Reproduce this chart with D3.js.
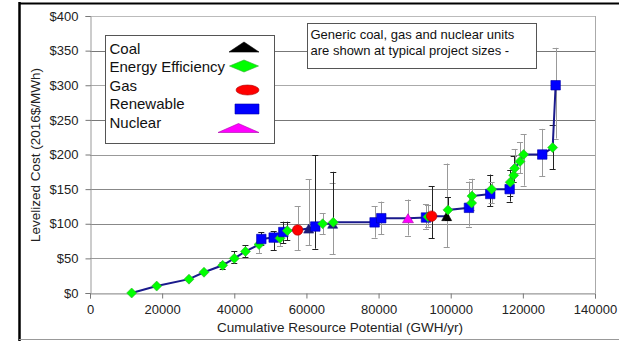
<!DOCTYPE html>
<html>
<head>
<meta charset="utf-8">
<script src="https://cdn.jsdelivr.net/npm/d3@7"></script>
<style>
  body { margin: 0; background: #fff; }
  svg { display: block; font-family: "Liberation Sans", Arial, sans-serif; }
</style>
</head>
<body>
<svg id="chart" width="619" height="341"></svg>
<script>
// cumulative potential (GWh/yr), levelized cost ($/MWh), resource type
const potential = [11550, 18490, 27440, 31600, 36780, 40000, 43100, 46850, 47490, 50920, 52670, 53590, 54700, 57570, 60620, 62460, 64500, 67270, 67440, 78900, 80750, 88150, 93140, 93700, 94720, 98880, 99240, 105060, 105800, 105900, 110960, 111350, 116340, 116500, 117450, 117730, 119200, 120220, 125380, 128260, 129090];
const cost = [0, 10, 20, 30, 40, 50, 60, 70, 78, 80, 79, 88, 90, 91, 93, 96, 100, 100, 102, 102, 108, 108, 109, 110, 111, 111, 120, 123, 130, 140, 143, 150, 150, 160, 170, 180, 190, 200, 200, 210, 300];
const kind = ['EE', 'EE', 'EE', 'EE', 'EE', 'EE', 'EE', 'EE', 'Ren', 'Ren', 'EE', 'Ren', 'EE', 'Gas', 'Coal', 'Ren', 'EE', 'Coal', 'EE', 'Ren', 'Ren', 'Nuc', 'Ren', 'EE', 'Gas', 'Coal', 'EE', 'Ren', 'EE', 'EE', 'Ren', 'EE', 'Ren', 'EE', 'EE', 'EE', 'EE', 'EE', 'Ren', 'EE', 'Ren'];
// error bar range (low, high); null = no bar; barTone 1 = black, 0 = grey
const errLow = [null, null, null, null, 34, 43, 52, 58, 70, 62, 68, 72, 76, 62, 69, 64, 85, 56, 100, 80, 85, 83, 93, 96, 79, 66, 105, 96, 120, 130, 125, 130, 132, 140, 160, 170, 173, 155, 169, 179, 223];
const errHigh = [null, null, null, null, 45, 60, 69, 74, 88, 89, 85, 103, 103, 125, 164, 199, 115, 159, 175, 125, 132, 135, 128, 127, 154, 187, 138, 161, 150, 165, 171, 160, 156, 178, 198, 208, 218, 229, 237, 242, 354];
const barTone = [1, 1, 1, 1, 1, 1, 1, 0, 1, 1, 0, 1, 1, 0, 0, 1, 0, 0, 1, 0, 0, 0, 0, 0, 1, 0, 1, 0, 0, 0, 1, 0, 1, 1, 1, 0, 0, 0, 0, 1, 0];
const yTicks = [0, 50, 100, 150, 200, 250, 300, 350, 400];
const xTicks = [0, 20000, 40000, 60000, 80000, 100000, 120000, 140000];
const legendLabels = ['Coal', 'Energy Efficiency', 'Gas', 'Renewable', 'Nuclear'];
const legendKinds = ['Coal', 'EE', 'Gas', 'Ren', 'Nuc'];
const noteLines = ['Generic coal, gas and nuclear units', 'are shown at typical project sizes -'];

const fills = { Coal: '#000000', EE: '#00ff00', Gas: '#ff0000', Ren: '#0000ff', Nuc: '#ff00ff' };
const strokes = { Coal: '#000000', EE: '#33aa33', Gas: '#aa0000', Ren: '#0000aa', Nuc: '#aa00aa' };

const svg = d3.select('#chart');
const x = d3.scaleLinear().domain([0, 140000]).range([90, 595]);
const y = d3.scaleLinear().domain([0, 400]).range([293, 16]);

// outer frame pieces
svg.append('line').attr('x1', 19.5).attr('x2', 19.5).attr('y1', 2).attr('y2', 341).attr('stroke', '#000').attr('stroke-width', 2.5);
svg.append('line').attr('x1', 19).attr('x2', 619).attr('y1', 3.5).attr('y2', 3.5).attr('stroke', '#000').attr('stroke-width', 2);
svg.append('line').attr('x1', 19).attr('x2', 619).attr('y1', 339.5).attr('y2', 339.5).attr('stroke', '#999').attr('stroke-width', 1);

// gridlines
const gridTone = { 0: '#cccccc', 50: '#999', 100: '#888', 150: '#888', 200: '#999', 250: '#777', 300: '#aaa', 350: '#777', 400: '#bbb' };
svg.append('g').selectAll('line').data(yTicks).enter().append('line')
  .attr('x1', 90).attr('x2', 595)
  .attr('y1', d => Math.round(y(d)) + 0.5).attr('y2', d => Math.round(y(d)) + 0.5)
  .attr('stroke', d => gridTone[d]).attr('stroke-width', 1.2);
svg.append('line').attr('x1', 595.5).attr('x2', 595.5).attr('y1', 16).attr('y2', 293).attr('stroke', '#aaa');

// axes
const yAxis = svg.append('g').attr('transform', 'translate(90.5,0)')
  .call(d3.axisLeft(y).tickValues(yTicks).tickSize(5).tickPadding(7).tickFormat(d => '$' + d));
const xAxis = svg.append('g').attr('transform', `translate(0,${Math.round(y(0)) + 0.5})`)
  .call(d3.axisBottom(x).tickValues(xTicks).tickSize(5).tickPadding(6).tickFormat(d => d));
[yAxis, xAxis].forEach(a => {
  a.select('.domain').attr('stroke', '#999');
  a.selectAll('.tick line').attr('stroke', '#777');
  a.selectAll('.tick text').attr('fill', '#222').attr('font-size', '13px').attr('font-family', '"Liberation Sans", Arial, sans-serif');
});

// axis titles
svg.append('text').attr('transform', 'translate(40,155) rotate(-90)').attr('text-anchor', 'middle')
  .attr('font-size', '13.5px').attr('fill', '#222').text('Levelized Cost (2016$/MWh)');
svg.append('text').attr('x', 340).attr('y', 332).attr('text-anchor', 'middle')
  .attr('font-size', '13.5px').attr('fill', '#222').text('Cumulative Resource Potential (GWH/yr)');

const pts = potential.map((p, i) => ({ p, c: cost[i], k: kind[i], lo: errLow[i], hi: errHigh[i], tone: barTone[i] }));

// error bars
const bars = svg.append('g').selectAll('g').data(pts.filter(d => d.lo != null)).enter().append('g')
  .attr('stroke', d => d.tone ? '#222' : '#999').attr('stroke-width', 1);
bars.append('line').attr('x1', d => Math.round(x(d.p)) + 0.5).attr('x2', d => Math.round(x(d.p)) + 0.5)
  .attr('y1', d => y(d.lo)).attr('y2', d => y(d.hi));
bars.append('line').attr('x1', d => x(d.p) - 3).attr('x2', d => x(d.p) + 3)
  .attr('y1', d => Math.round(y(d.lo)) + 0.5).attr('y2', d => Math.round(y(d.lo)) + 0.5);
bars.append('line').attr('x1', d => x(d.p) - 3).attr('x2', d => x(d.p) + 3)
  .attr('y1', d => Math.round(y(d.hi)) + 0.5).attr('y2', d => Math.round(y(d.hi)) + 0.5);

// supply curve line
svg.append('path').datum(pts)
  .attr('d', d3.line().x(d => x(d.p)).y(d => y(d.c)))
  .attr('fill', 'none').attr('stroke', '#1a1a8c').attr('stroke-width', 2);

function markerPath(k, w, h) {
  const a = w / 2, b = h / 2;
  if (k === 'EE') return `M${-a},0L0,${-b}L${a},0L0,${b}Z`;
  if (k === 'Ren') return `M${-a},${-b}H${a}V${b}H${-a}Z`;
  if (k === 'Coal' || k === 'Nuc') return `M${-a},${b}L0,${-b}L${a},${b}Z`;
  return null;
}

function drawMarker(g, k, w, h, fillOverride) {
  if (k === 'Gas') {
    g.append('ellipse').attr('rx', w / 2).attr('ry', h / 2)
      .attr('fill', fills.Gas).attr('stroke', strokes.Gas).attr('stroke-width', 0.6);
  } else {
    g.append('path').attr('d', markerPath(k, w, h))
      .attr('fill', fillOverride || fills[k]).attr('stroke', fillOverride || strokes[k]).attr('stroke-width', 0.6);
  }
}

const sizes = { EE: [10, 10], Ren: [9.5, 9.5], Gas: [10.5, 10.5], Coal: [10, 9], Nuc: [11, 9] };
pts.forEach(d => {
  const g = svg.append('g').attr('transform', `translate(${x(d.p)},${y(d.c)})`);
  // coal units sitting on the line look navy in the original
  const over = d.k === 'Coal' && d.p < 90000 ? '#1a1a7a' : null;
  drawMarker(g, d.k, sizes[d.k][0], sizes[d.k][1], over);
});

// legend
const legend = svg.append('g').attr('transform', 'translate(105.5,35.5)');
legend.append('rect').attr('width', 169).attr('height', 108).attr('fill', '#fff').attr('stroke', '#555').attr('stroke-width', 1);
const legendW = [[30, 10], [29, 12], [23, 10], [24, 10], [41, 9]];
const legendCx = [244, 244, 247.5, 247, 238.5];
const legendCy = [47, 66, 90, 109, 128];
legendLabels.forEach((label, i) => {
  legend.append('text').attr('x', 4).attr('y', 18 + i * 18.5).attr('font-size', '15px').attr('fill', '#111').text(label);
  const g = svg.append('g').attr('transform', `translate(${legendCx[i]},${legendCy[i]})`);
  drawMarker(g, legendKinds[i], legendW[i][0], legendW[i][1]);
});

// note box
const note = svg.append('g').attr('transform', 'translate(307.5,23.5)');
note.append('rect').attr('width', 229).attr('height', 45).attr('fill', '#fff').attr('stroke', '#555');
noteLines.forEach((t, i) => {
  note.append('text').attr('x', 3).attr('y', 15 + i * 16).attr('font-size', '13px').attr('fill', '#111').text(t);
});
</script>
</body>
</html>
